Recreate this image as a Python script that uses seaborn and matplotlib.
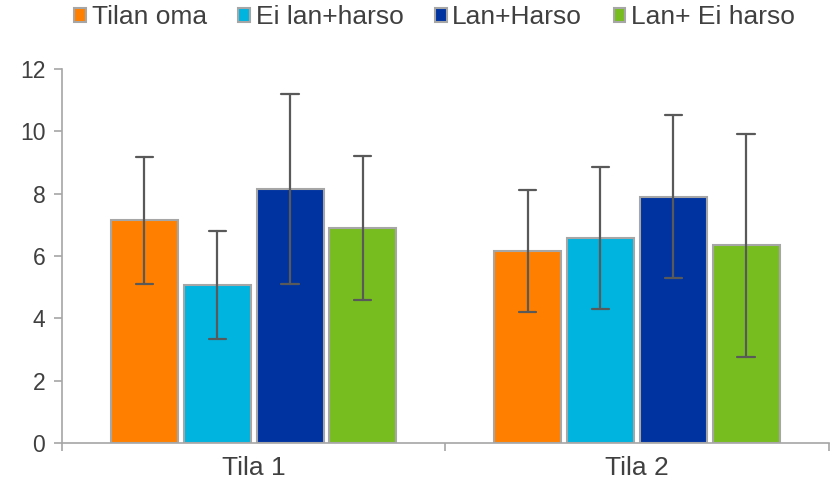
import pandas as pd
import matplotlib.pyplot as plt
import seaborn as sns

# Data
categories = ['Tila 1', 'Tila 2']
groups = ['Tilan oma', 'Ei lan+harso', 'Lan+Harso', 'Lan+ Ei harso']
means = {
    'Tilan oma':     [7.15, 6.16],
    'Ei lan+harso':  [5.07, 6.58],
    'Lan+Harso':     [8.15, 7.90],
    'Lan+ Ei harso': [6.90, 6.35],
}
errors = {
    'Tilan oma':     [2.04, 1.96],
    'Ei lan+harso':  [1.72, 2.28],
    'Lan+Harso':     [3.04, 2.62],
    'Lan+ Ei harso': [2.31, 3.58],
}
colors = ['#FF8000', '#00B4E0', '#0033A0', '#78BD20']

# Long table: two points per bar (mean - err, mean + err), so the mean is the
# bar height and the full-range interval is +/- err
rows = []
for g in groups:
    for c, m, e in zip(categories, means[g], errors[g]):
        rows.append({'Tila': c, 'Ryhma': g, 'value': m - e})
        rows.append({'Tila': c, 'Ryhma': g, 'value': m + e})
df = pd.DataFrame(rows)

sns.set_style('white')
plt.rcParams['font.family'] = ['Liberation Sans', 'DejaVu Sans']

fig = plt.figure(figsize=(8.3, 4.87), dpi=100)
ax = fig.add_axes([0.0747, 0.0903, 0.9235, 0.768])

sns.barplot(data=df, x='Tila', y='value', hue='Ryhma', hue_order=groups,
            order=categories, palette=colors, estimator='mean',
            errorbar=('pi', 100), width=0.76, gap=0.08, saturation=1,
            capsize=0.18, edgecolor='#A6A6A6', linewidth=1.5,
            err_kws={'color': '#595959', 'linewidth': 1.6}, ax=ax)

ax.set_ylim(0, 12)
ax.set_xlim(-0.5, 1.5)
ax.set_yticks(range(0, 13, 2))
ax.set_xlabel('')
ax.set_ylabel('')

for side in ['top', 'right']:
    ax.spines[side].set_visible(False)
for side in ['left', 'bottom']:
    ax.spines[side].set_color('#A6A6A6')
    ax.spines[side].set_linewidth(1.2)

ax.tick_params(axis='y', left=True, length=6, width=1.2, color='#A6A6A6',
               labelsize=16.5, labelcolor='#404040', pad=6)
ax.tick_params(axis='x', bottom=False, labelsize=19, labelcolor='#404040', pad=6)
ax.set_xticks([-0.5, 0.5, 1.5], minor=True)
ax.tick_params(axis='x', which='minor', bottom=True, length=6, width=1.2,
               color='#A6A6A6')

handles, labels = ax.get_legend_handles_labels()
for h in handles:
    h.set_edgecolor('#A6A6A6')
leg = ax.legend(handles, labels, loc='center', bbox_to_anchor=(0.486, 1.139),
                ncol=4, frameon=False, fontsize=19, handlelength=0.45,
                handleheight=0.45, handletextpad=0.2, columnspacing=1.2,
                borderpad=0)
for t in leg.get_texts():
    t.set_color('#404040')

plt.savefig('out.png', dpi=100)
